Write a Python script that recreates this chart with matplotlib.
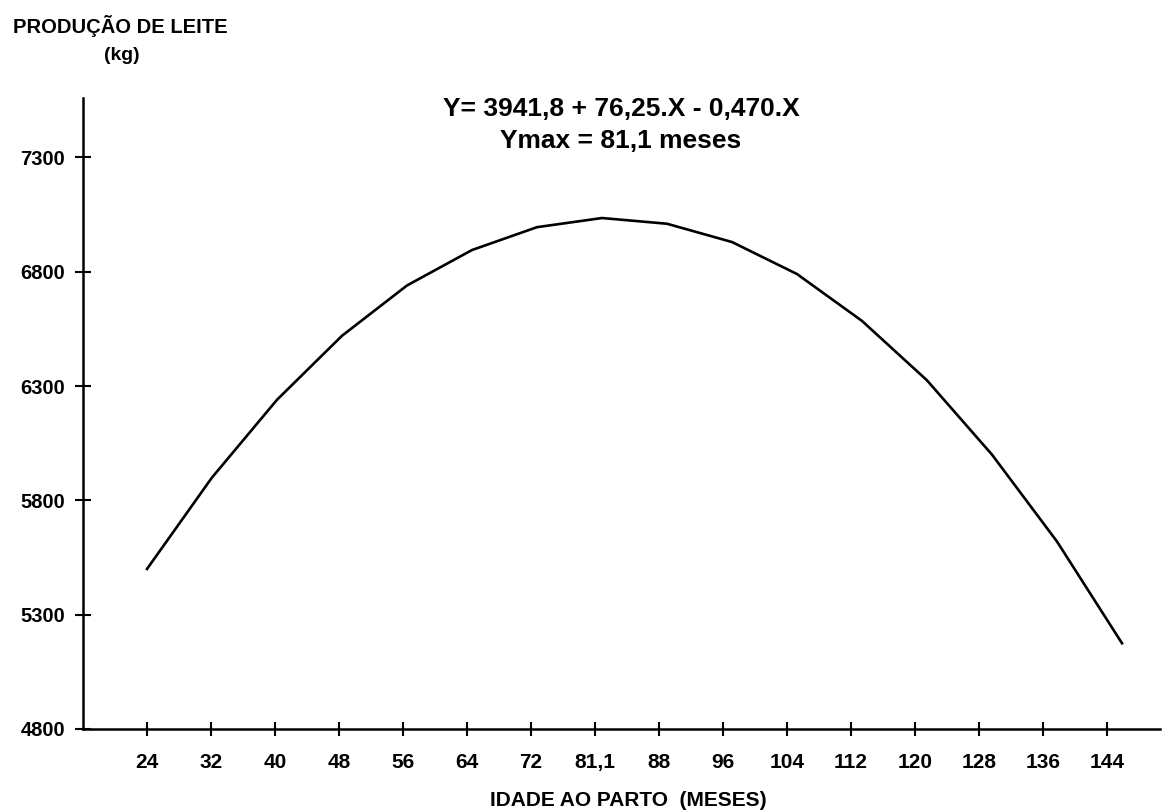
import matplotlib
matplotlib.use("Agg")
import matplotlib.pyplot as plt
import numpy as np

# Data
idade_labels = ["24", "32", "40", "48", "56", "64", "72", "81,1", "88",
                "96", "104", "112", "120", "128", "136", "144"]
producao = [5500, 5900, 6240, 6520, 6740, 6895, 6995, 7035, 7010,
            6930, 6790, 6585, 6325, 6000, 5620, 5175]
y_ticks = [4800, 5300, 5800, 6300, 6800, 7300]

plt.rcParams['font.family'] = ['Liberation Sans', 'DejaVu Sans']
plt.rcParams['font.weight'] = 'bold'

W, H = 1164, 811
fig = plt.figure(figsize=(W / 100, H / 100), dpi=100)
ax = fig.add_axes([83 / W, (H - 729) / H, (1160 - 83) / W, (729 - 98) / H])

x = np.arange(len(producao))
ax.plot(x, producao, color='black', lw=1.9, solid_joinstyle='round')

px_per_unit = 65.0
ax.set_xlim(-(147 - 83) / px_per_unit, (1160 - 147) / px_per_unit)
ax.set_ylim(4800, 7560)

tick_pos = x * (64.0 / 65.0)
ax.set_xticks(tick_pos)
ax.set_xticklabels(idade_labels, fontsize=15, fontweight='bold')
ax.set_yticks(y_ticks)
ax.set_yticklabels([str(v) for v in y_ticks], fontsize=14.5, fontweight='bold')

for s in ['top', 'right']:
    ax.spines[s].set_visible(False)
for s in ['left', 'bottom']:
    ax.spines[s].set_linewidth(1.8)
    ax.spines[s].set_color('black')

ax.tick_params(axis='x', direction='inout', length=10, width=1.5, pad=12)
ax.tick_params(axis='y', direction='inout', length=12, width=1.5, pad=7)

fig.text(13 / W, 1 - 26 / H, "PRODUÇÃO DE LEITE", fontsize=14.5, fontweight='bold',
         ha='left', va='center')
fig.text(122 / W, 1 - 55 / H, "(kg)", fontsize=14, fontweight='bold',
         ha='center', va='center')
fig.text(621 / W, 1 - 109 / H, "Y= 3941,8 + 76,25.X - 0,470.X", fontsize=19,
         fontweight='bold', ha='center', va='center')
fig.text(621 / W, 1 - 141 / H, "Ymax = 81,1 meses", fontsize=19,
         fontweight='bold', ha='center', va='center')
fig.text(628 / W, 1 - 800 / H, "IDADE AO PARTO  (MESES)", fontsize=15,
         fontweight='bold', ha='center', va='center')

fig.savefig("out.png", dpi=100, facecolor='white')
